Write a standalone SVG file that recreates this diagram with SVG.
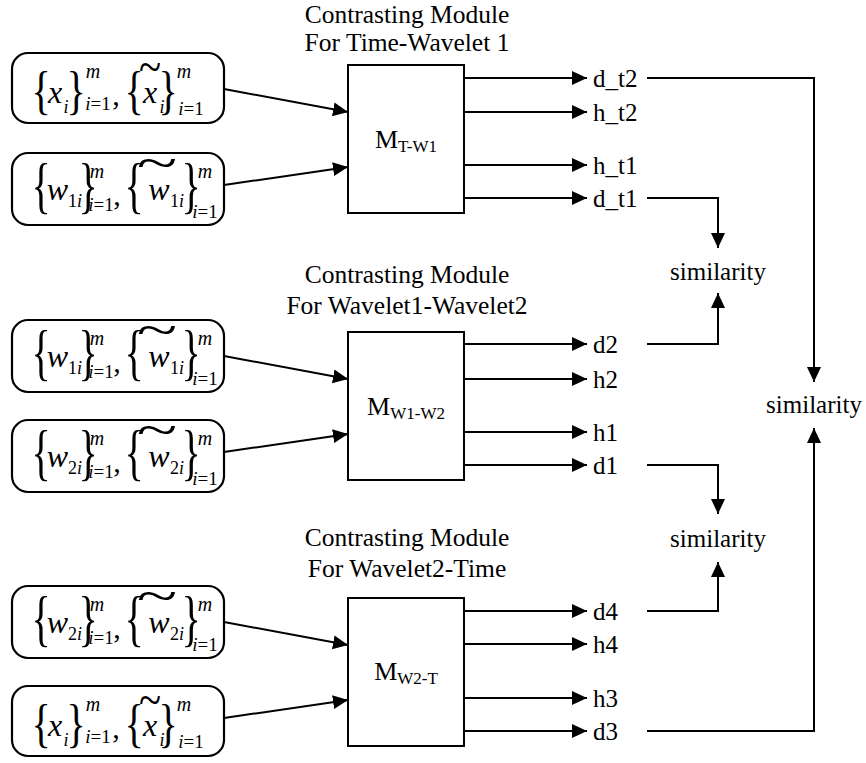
<svg xmlns="http://www.w3.org/2000/svg" width="866" height="763" viewBox="0 0 866 763" font-family="'Liberation Serif', 'DejaVu Serif', serif">
<style>
text{font-family:'Liberation Serif','DejaVu Serif',serif;fill:#000}
.box{fill:#fff;stroke:#000;stroke-width:2}
.ibox{fill:#fff;stroke:#000;stroke-width:2.2}
.conn{fill:none;stroke:#000;stroke-width:2}
.arr{marker-end:url(#ah)}
.ttl{font-size:25.5px;text-anchor:middle}
.lbl{font-size:25px}
.ml{font-size:26px;text-anchor:middle}
.br{font-size:40px;text-anchor:middle}
.v{font-size:32px;font-style:italic;text-anchor:middle}
.s{font-size:18px;text-anchor:middle}
.it{font-style:italic}
.sup{font-size:20px;font-style:italic;text-anchor:middle}
.lim{font-size:19px;text-anchor:middle}
.cm{font-size:30px;text-anchor:middle}
.tl{font-size:34px;text-anchor:middle}
</style>
<defs>
<marker id="ah" markerUnits="userSpaceOnUse" markerWidth="16" markerHeight="15" refX="15" refY="7" orient="auto">
<path d="M0,0 L15,7 L0,14 z" fill="#000"/>
</marker>
</defs>

<!-- titles -->
<g id="title1"><text class="ttl" x="407" y="23">Contrasting Module</text><text class="ttl" x="407" y="51">For Time-Wavelet 1</text></g>
<g id="title2"><text class="ttl" x="407" y="283">Contrasting Module</text><text class="ttl" x="407" y="314">For Wavelet1-Wavelet2</text></g>
<g id="title3"><text class="ttl" x="407" y="546">Contrasting Module</text><text class="ttl" x="407" y="577">For Wavelet2-Time</text></g>

<!-- input boxes -->
<g id="in1" transform="translate(0,53)">
<rect class="ibox" x="12" y="0" width="212" height="70" rx="16"/>
<text class="br" transform="translate(41,64) scale(1,1.32)" y="-7">{</text>
<text class="v" x="55" y="50">x</text>
<text class="s it" x="66" y="60">i</text>
<text class="br" transform="translate(76,64) scale(1,1.32)" y="-7">}</text>
<text class="sup" x="93" y="25">m</text>
<text class="lim" x="98" y="57"><tspan class="it">i</tspan>=1</text>
<text class="cm" x="116" y="52">,</text>
<text class="br" transform="translate(134,64) scale(1,1.32)" y="-7">{</text>
<text class="v" x="150" y="50">x</text>
<text class="tl" transform="translate(150,30) scale(1.2,1.4)">~</text>
<text class="s it" x="162" y="60">i</text>
<text class="br" transform="translate(168,64) scale(1,1.32)" y="-7">}</text>
<text class="sup" x="184" y="25">m</text>
<text class="lim" x="191" y="62"><tspan class="it">i</tspan>=1</text>
</g>

<g id="in2" transform="translate(0,153)">
<rect class="ibox" x="12" y="0" width="212" height="72" rx="16"/>
<text class="br" transform="translate(41,64) scale(1,1.52)" y="-7">{</text>
<text class="v" x="57.5" y="47">w</text>
<text class="s" x="75" y="54">1<tspan class="it">i</tspan></text>
<text class="br" transform="translate(88,64) scale(1,1.52)" y="-7">}</text>
<text class="sup" x="97" y="25">m</text>
<text class="lim" x="101" y="58"><tspan class="it">i</tspan>=1</text>
<text class="cm" x="117" y="52">,</text>
<text class="br" transform="translate(134,64) scale(1,1.52)" y="-7">{</text>
<text class="v" x="159" y="47">w</text>
<text class="tl" transform="translate(157,26) scale(2.2,1.4)">~</text>
<text class="s" x="177" y="54">1<tspan class="it">i</tspan></text>
<text class="br" transform="translate(191,64) scale(1,1.52)" y="-7">}</text>
<text class="sup" x="205" y="25">m</text>
<text class="lim" x="205" y="65"><tspan class="it">i</tspan>=1</text>
</g>

<g id="in3" transform="translate(0,320)">
<rect class="ibox" x="12" y="0" width="212" height="72" rx="16"/>
<text class="br" transform="translate(41,64) scale(1,1.52)" y="-7">{</text>
<text class="v" x="57.5" y="47">w</text>
<text class="s" x="75" y="54">1<tspan class="it">i</tspan></text>
<text class="br" transform="translate(88,64) scale(1,1.52)" y="-7">}</text>
<text class="sup" x="97" y="25">m</text>
<text class="lim" x="101" y="58"><tspan class="it">i</tspan>=1</text>
<text class="cm" x="117" y="52">,</text>
<text class="br" transform="translate(134,64) scale(1,1.52)" y="-7">{</text>
<text class="v" x="159" y="47">w</text>
<text class="tl" transform="translate(157,26) scale(2.2,1.4)">~</text>
<text class="s" x="177" y="54">1<tspan class="it">i</tspan></text>
<text class="br" transform="translate(191,64) scale(1,1.52)" y="-7">}</text>
<text class="sup" x="205" y="25">m</text>
<text class="lim" x="205" y="65"><tspan class="it">i</tspan>=1</text>
</g>

<g id="in4" transform="translate(0,420)">
<rect class="ibox" x="12" y="0" width="212" height="72" rx="16"/>
<text class="br" transform="translate(41,64) scale(1,1.52)" y="-7">{</text>
<text class="v" x="57.5" y="47">w</text>
<text class="s" x="75" y="54">2<tspan class="it">i</tspan></text>
<text class="br" transform="translate(88,64) scale(1,1.52)" y="-7">}</text>
<text class="sup" x="97" y="25">m</text>
<text class="lim" x="101" y="58"><tspan class="it">i</tspan>=1</text>
<text class="cm" x="117" y="52">,</text>
<text class="br" transform="translate(134,64) scale(1,1.52)" y="-7">{</text>
<text class="v" x="159" y="47">w</text>
<text class="tl" transform="translate(157,26) scale(2.2,1.4)">~</text>
<text class="s" x="177" y="54">2<tspan class="it">i</tspan></text>
<text class="br" transform="translate(191,64) scale(1,1.52)" y="-7">}</text>
<text class="sup" x="205" y="25">m</text>
<text class="lim" x="205" y="65"><tspan class="it">i</tspan>=1</text>
</g>

<g id="in5" transform="translate(0,586)">
<rect class="ibox" x="12" y="0" width="212" height="72" rx="16"/>
<text class="br" transform="translate(41,64) scale(1,1.52)" y="-7">{</text>
<text class="v" x="57.5" y="47">w</text>
<text class="s" x="75" y="54">2<tspan class="it">i</tspan></text>
<text class="br" transform="translate(88,64) scale(1,1.52)" y="-7">}</text>
<text class="sup" x="97" y="25">m</text>
<text class="lim" x="101" y="58"><tspan class="it">i</tspan>=1</text>
<text class="cm" x="117" y="52">,</text>
<text class="br" transform="translate(134,64) scale(1,1.52)" y="-7">{</text>
<text class="v" x="159" y="47">w</text>
<text class="tl" transform="translate(157,26) scale(2.2,1.4)">~</text>
<text class="s" x="177" y="54">2<tspan class="it">i</tspan></text>
<text class="br" transform="translate(191,64) scale(1,1.52)" y="-7">}</text>
<text class="sup" x="205" y="25">m</text>
<text class="lim" x="205" y="65"><tspan class="it">i</tspan>=1</text>
</g>

<g id="in6" transform="translate(0,686)">
<rect class="ibox" x="12" y="0" width="212" height="70" rx="16"/>
<text class="br" transform="translate(41,64) scale(1,1.32)" y="-7">{</text>
<text class="v" x="55" y="50">x</text>
<text class="s it" x="66" y="60">i</text>
<text class="br" transform="translate(76,64) scale(1,1.32)" y="-7">}</text>
<text class="sup" x="93" y="25">m</text>
<text class="lim" x="98" y="57"><tspan class="it">i</tspan>=1</text>
<text class="cm" x="116" y="52">,</text>
<text class="br" transform="translate(134,64) scale(1,1.32)" y="-7">{</text>
<text class="v" x="150" y="50">x</text>
<text class="tl" transform="translate(150,30) scale(1.2,1.4)">~</text>
<text class="s it" x="162" y="60">i</text>
<text class="br" transform="translate(168,64) scale(1,1.32)" y="-7">}</text>
<text class="sup" x="184" y="25">m</text>
<text class="lim" x="191" y="62"><tspan class="it">i</tspan>=1</text>
</g>

<!-- modules -->
<g id="m1"><rect class="box" x="348" y="65" width="116" height="148"/><text class="ml" x="406" y="148">M<tspan font-size="17" dy="4">T-W1</tspan></text></g>
<g id="m2"><rect class="box" x="348" y="332" width="116" height="148"/><text class="ml" x="406" y="415">M<tspan font-size="17" dy="4">W1-W2</tspan></text></g>
<g id="m3"><rect class="box" x="348" y="598" width="116" height="148"/><text class="ml" x="406" y="680">M<tspan font-size="17" dy="4">W2-T</tspan></text></g>

<!-- output labels -->
<g id="o1"><text class="lbl" x="593" y="87">d_t2</text></g>
<g id="o2"><text class="lbl" x="593" y="121">h_t2</text></g>
<g id="o3"><text class="lbl" x="593" y="174">h_t1</text></g>
<g id="o4"><text class="lbl" x="593" y="207">d_t1</text></g>
<g id="o5"><text class="lbl" x="593" y="353">d2</text></g>
<g id="o6"><text class="lbl" x="593" y="388">h2</text></g>
<g id="o7"><text class="lbl" x="593" y="441">h1</text></g>
<g id="o8"><text class="lbl" x="593" y="474">d1</text></g>
<g id="o9"><text class="lbl" x="593" y="620">d4</text></g>
<g id="o10"><text class="lbl" x="593" y="653">h4</text></g>
<g id="o11"><text class="lbl" x="593" y="707">h3</text></g>
<g id="o12"><text class="lbl" x="593" y="740">d3</text></g>

<!-- similarity -->
<g id="sim1"><text class="lbl" x="718" y="280" text-anchor="middle">similarity</text></g>
<g id="sim2"><text class="lbl" x="718" y="547" text-anchor="middle">similarity</text></g>
<g id="sim3"><text class="lbl" x="814" y="413" text-anchor="middle">similarity</text></g>

<!-- connectors -->
<g id="connectors">
<line class="conn arr" x1="224" y1="89" x2="348" y2="112"/>
<line class="conn arr" x1="224" y1="185" x2="348" y2="167"/>
<line class="conn arr" x1="224" y1="356" x2="348" y2="379"/>
<line class="conn arr" x1="224" y1="452" x2="348" y2="434"/>
<line class="conn arr" x1="224" y1="622" x2="348" y2="645"/>
<line class="conn arr" x1="224" y1="718" x2="348" y2="700"/>

<line class="conn arr" x1="464" y1="78" x2="587" y2="78"/>
<line class="conn arr" x1="464" y1="112" x2="587" y2="112"/>
<line class="conn arr" x1="464" y1="165" x2="587" y2="165"/>
<line class="conn arr" x1="464" y1="198" x2="587" y2="198"/>
<line class="conn arr" x1="464" y1="344" x2="587" y2="344"/>
<line class="conn arr" x1="464" y1="379" x2="587" y2="379"/>
<line class="conn arr" x1="464" y1="432" x2="587" y2="432"/>
<line class="conn arr" x1="464" y1="465" x2="587" y2="465"/>
<line class="conn arr" x1="464" y1="611" x2="587" y2="611"/>
<line class="conn arr" x1="464" y1="644" x2="587" y2="644"/>
<line class="conn arr" x1="464" y1="698" x2="587" y2="698"/>
<line class="conn arr" x1="464" y1="731" x2="587" y2="731"/>

<path class="conn arr" d="M647,78 H814 V382"/>
<path class="conn arr" d="M647,198 H718 V248"/>
<path class="conn arr" d="M647,344 H718 V293"/>
<path class="conn arr" d="M647,465 H718 V514"/>
<path class="conn arr" d="M647,611 H718 V562"/>
<path class="conn arr" d="M647,731 H814 V428"/>
</g>
</svg>
